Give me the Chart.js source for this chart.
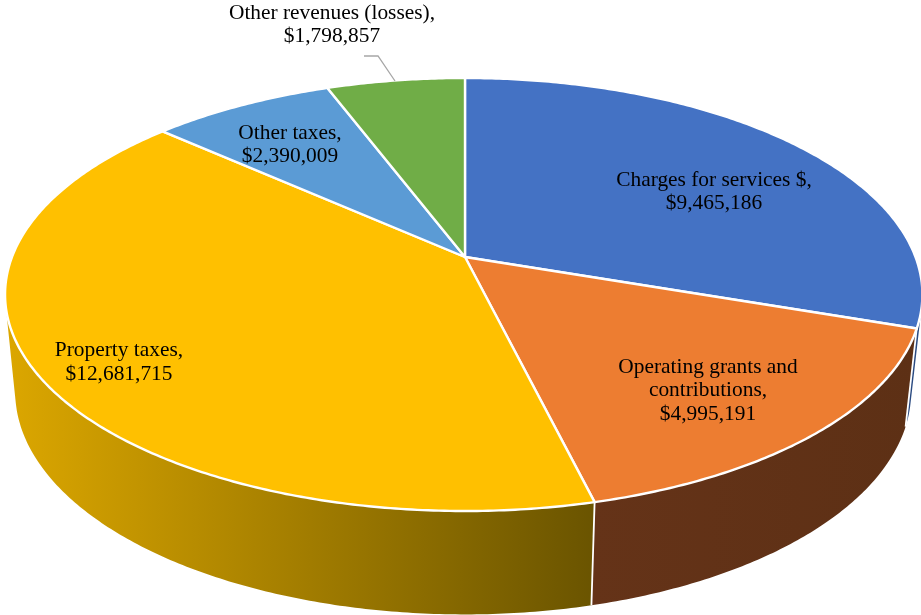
<!DOCTYPE html>
<html>
<head>
<meta charset="utf-8">
<title>Revenues</title>
<style>
  html, body { margin: 0; padding: 0; background: #ffffff; }
  canvas { display: block; }
</style>
<script src="https://cdn.jsdelivr.net/npm/chart.js@4"></script>
</head>
<body>
<canvas id="revenues__graphic" width="921" height="615"></canvas>
<script>
const CATEGORIES = [
  "Charges for services $",
  "Operating grants and contributions",
  "Property taxes",
  "Other taxes",
  "Other revenues (losses)",
];
const VALUES = [9465186, 4995191, 12681715, 2390009, 1798857];
const TOP_COLORS = ["#4472C4", "#ED7D31", "#FFC000", "#5B9BD5", "#70AD47"];
const SIDE_COLORS = [
  ["#2A4A80", "#2A4A80"],
  ["#653318", "#5D3015"],
  ["#DCA700", "#6A5400"],
  ["#3A6A94", "#3A6A94"],
  ["#4C7730", "#4C7730"],
];
const LABEL_LINES = [
  ["Charges for services $,", "$9,465,186"],
  ["Operating grants and", "contributions,", "$4,995,191"],
  ["Property taxes,", "$12,681,715"],
  ["Other taxes,", "$2,390,009"],
  ["Other revenues (losses),", "$1,798,857"],
];
const LABEL_POS = [
  [714, 180],
  [708, 367],
  [119, 350.5],
  [290, 133],
  [332, 13],
];

// perspective of the pie disc, top face and bottom face
const CENTER_X = 465;
const TILT = -0.1732;
const TOP_FACE = { dLeft: 453, dRight: 450.5, a: 165.5, b: 257 };
const BOTTOM_FACE = { dLeft: 443, dRight: 439.4, a: 155, b: 353 };

// angle comes from the arc element (canvas radians, 12 o'clock = -PI/2)
function project(face, angle, r = 1) {
  const u = Math.cos(angle) * r;
  const v = Math.sin(angle) * r;
  const w = 1 + TILT * v;
  const d = u < 0 ? face.dLeft : face.dRight;
  return [CENTER_X + (d * u) / w, (face.b + face.a * v) / w];
}

function arcPoints(face, start, end) {
  const steps = Math.max(2, Math.ceil((end - start) / 0.01));
  const pts = [];
  for (let i = 0; i <= steps; i++) {
    pts.push(project(face, start + ((end - start) * i) / steps));
  }
  return pts;
}

function tracePath(ctx, pts) {
  ctx.beginPath();
  pts.forEach((p, i) => (i ? ctx.lineTo(p[0], p[1]) : ctx.moveTo(p[0], p[1])));
  ctx.closePath();
}

// wall of one slice as a strip of quads, all wound the same way
function traceWall(ctx, top, bottom) {
  ctx.beginPath();
  for (let i = 0; i < top.length - 1; i++) {
    const quad = [top[i], top[i + 1], bottom[i + 1], bottom[i]];
    let area = 0;
    quad.forEach((p, n) => {
      const q = quad[(n + 1) % 4];
      area += p[0] * q[1] - q[0] * p[1];
    });
    if (area < 0) quad.reverse();
    quad.forEach((p, n) => (n ? ctx.lineTo(p[0], p[1]) : ctx.moveTo(p[0], p[1])));
    ctx.closePath();
  }
}

const perspectivePie = {
  id: "perspectivePie",
  beforeDatasetsDraw(chart) {
    const ctx = chart.ctx;
    const arcs = chart.getDatasetMeta(0).data;
    ctx.save();
    ctx.lineJoin = "round";

    // outer wall
    arcs.forEach((arc, i) => {
      const top = arcPoints(TOP_FACE, arc.startAngle, arc.endAngle);
      const bottom = arcPoints(BOTTOM_FACE, arc.startAngle, arc.endAngle);
      const xs = top.concat(bottom).map((p) => p[0]);
      const grad = ctx.createLinearGradient(Math.min(...xs), 0, Math.max(...xs), 0);
      grad.addColorStop(0, SIDE_COLORS[i][0]);
      grad.addColorStop(1, SIDE_COLORS[i][1]);
      traceWall(ctx, top, bottom);
      ctx.fillStyle = grad;
      ctx.fill();
    });

    // white seams between walls and along the bottom rim
    ctx.strokeStyle = "#ffffff";
    ctx.lineWidth = 1.8;
    arcs.forEach((arc) => {
      const a = project(TOP_FACE, arc.startAngle);
      const b = project(BOTTOM_FACE, arc.startAngle);
      ctx.beginPath();
      ctx.moveTo(a[0], a[1]);
      ctx.lineTo(b[0], b[1]);
      ctx.stroke();
    });

    // top face
    arcs.forEach((arc, i) => {
      const pts = [project(TOP_FACE, 0, 0)].concat(
        arcPoints(TOP_FACE, arc.startAngle, arc.endAngle)
      );
      tracePath(ctx, pts);
      ctx.fillStyle = TOP_COLORS[i];
      ctx.fill();
      ctx.strokeStyle = "#ffffff";
      ctx.lineWidth = 2.4;
      ctx.stroke();
    });
    ctx.restore();
    return false;
  },
  afterDraw(chart) {
    const ctx = chart.ctx;
    ctx.save();

    // leader for the small slice
    ctx.beginPath();
    ctx.moveTo(395, 81);
    ctx.lineTo(378, 56);
    ctx.lineTo(364, 56);
    ctx.strokeStyle = "#A6A6A6";
    ctx.lineWidth = 1.3;
    ctx.stroke();

    ctx.font = '21.4px "Liberation Serif"';
    ctx.fillStyle = "#000000";
    ctx.textAlign = "center";
    ctx.textBaseline = "middle";
    LABEL_LINES.forEach((lines, i) => {
      lines.forEach((line, n) => {
        ctx.fillText(line, LABEL_POS[i][0], LABEL_POS[i][1] + n * 23.5);
      });
    });
    ctx.restore();
  },
};

new Chart(document.getElementById("revenues__graphic"), {
  type: "pie",
  data: {
    labels: CATEGORIES,
    datasets: [
      {
        data: VALUES,
        backgroundColor: TOP_COLORS,
        borderWidth: 0,
      },
    ],
  },
  options: {
    responsive: false,
    animation: false,
    plugins: {
      legend: { display: false },
      tooltip: { enabled: false },
    },
  },
  plugins: [perspectivePie],
});
</script>
</body>
</html>
